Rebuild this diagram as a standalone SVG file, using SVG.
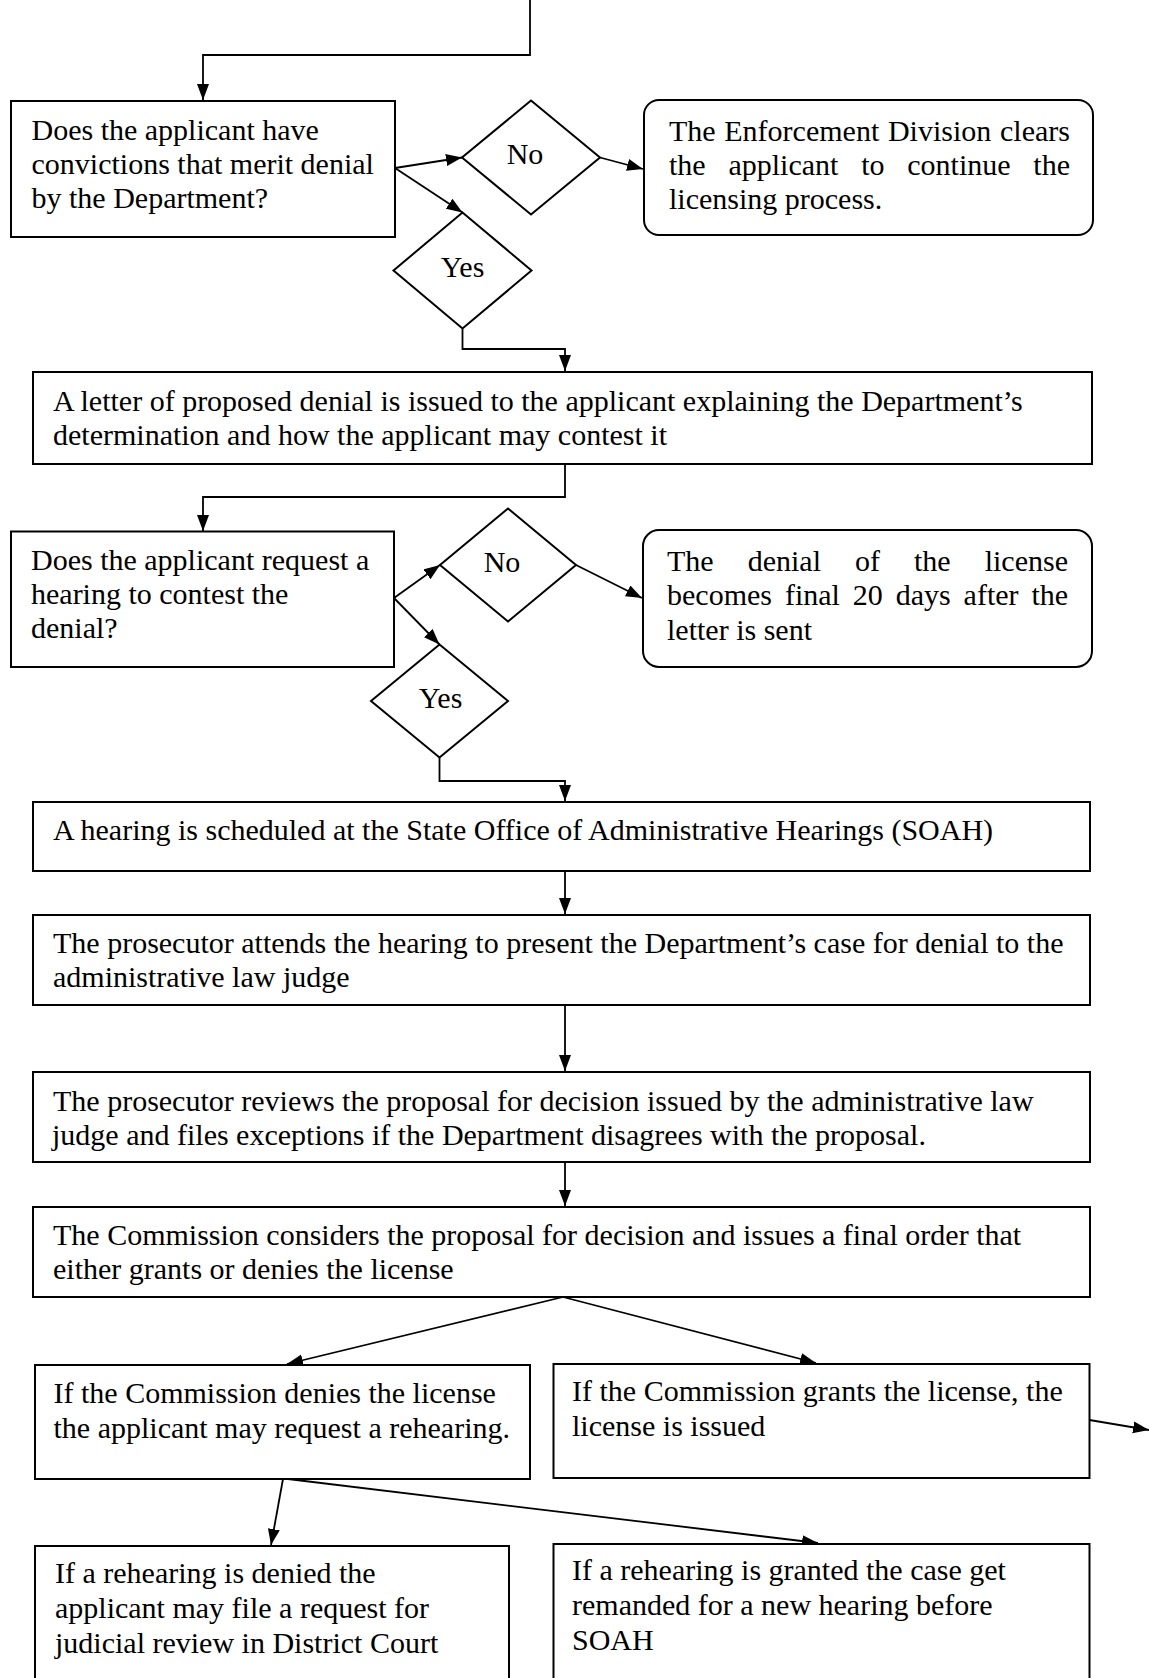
<svg xmlns="http://www.w3.org/2000/svg" width="1149" height="1678" viewBox="0 0 1149 1678">
<defs>
<marker id="arrow" markerUnits="userSpaceOnUse" markerWidth="17" markerHeight="13" refX="16" refY="6" orient="auto">
<path d="M0,0 L16,6 L0,12 z" fill="#000"/>
</marker>
<style>
.box{fill:#fff;stroke:#000;stroke-width:2}
.dia{fill:#fff;stroke:#000;stroke-width:2}
.t{font-family:"Liberation Serif","Times New Roman",serif;font-size:30px;fill:#000}
.c{text-anchor:middle}
.con{fill:none;stroke:#000;stroke-width:1.8;marker-end:url(#arrow)}
</style>
</defs>
<rect width="1149" height="1678" fill="#fff"/>

<g id="connectors">
<polyline class="con" points="530,0 530,55 203,55 203,100"/>
<line class="con" x1="395" y1="168" x2="462" y2="157.5"/>
<line class="con" x1="395" y1="168" x2="462.5" y2="212.5"/>
<polyline class="con" points="462.5,328.5 462.5,349 565,349 565,371"/>
<line class="con" x1="600" y1="157.5" x2="643" y2="169"/>
<polyline class="con" points="565,464 565,497 203,497 203,531"/>
<line class="con" x1="394" y1="598" x2="440" y2="565"/>
<line class="con" x1="394" y1="598" x2="439.5" y2="644.5"/>
<line class="con" x1="576" y1="565" x2="642" y2="598"/>
<polyline class="con" points="439.5,757.5 439.5,781 565,781 565,801"/>
<line class="con" x1="565" y1="871" x2="565" y2="914"/>
<line class="con" x1="565" y1="1005" x2="565" y2="1071"/>
<line class="con" x1="565" y1="1162" x2="565" y2="1206"/>
<line class="con" x1="563" y1="1297" x2="287" y2="1364"/>
<line class="con" x1="563" y1="1297" x2="816" y2="1363"/>
<line class="con" x1="283" y1="1479" x2="271" y2="1545"/>
<line class="con" x1="288" y1="1479" x2="818" y2="1543"/>
<line class="con" x1="1089.5" y1="1420" x2="1149" y2="1430"/>
</g>

<g id="q-convictions">
<rect class="box" x="11" y="101" width="384" height="136"/>
<text class="t" x="31.5" y="140">Does the applicant have</text>
<text class="t" x="31.5" y="174">convictions that merit denial</text>
<text class="t" x="31.5" y="208">by the Department?</text>
</g>

<g id="d-no1">
<polygon class="dia" points="531,100.5 600,157.5 531,214.5 462,157.5"/>
<text class="t c" x="525" y="164">No</text>
</g>

<g id="d-yes1">
<polygon class="dia" points="462.5,212.5 531.5,270.5 462.5,328.5 393.5,270.5"/>
<text class="t c" x="462.5" y="277">Yes</text>
</g>

<g id="cleared">
<rect class="box" x="644" y="100" width="449" height="135" rx="15" ry="15"/>
<text class="t" y="141"><tspan x="669">The</tspan> <tspan x="724.3">Enforcement</tspan> <tspan x="887.9">Division</tspan> <tspan x="1000">clears</tspan></text>
<text class="t" y="175"><tspan x="669">the</tspan> <tspan x="728.4">applicant</tspan> <tspan x="861.2">to</tspan> <tspan x="907.3">continue</tspan> <tspan x="1033.3">the</tspan></text>
<text class="t" x="669" y="208.5">licensing process.</text>
</g>

<g id="letter">
<rect class="box" x="33" y="372" width="1059" height="92"/>
<text class="t" x="53" y="411">A letter of proposed denial is issued to the applicant explaining the Department’s</text>
<text class="t" x="53" y="445">determination and how the applicant may contest it</text>
</g>

<g id="q-hearing">
<rect class="box" x="11" y="531.5" width="383" height="135.5"/>
<text class="t" x="31" y="570">Does the applicant request a</text>
<text class="t" x="31" y="604">hearing to contest the</text>
<text class="t" x="31" y="638">denial?</text>
</g>

<g id="d-no2">
<polygon class="dia" points="508,508.5 576,565 508,621.5 440,565"/>
<text class="t c" x="502" y="572">No</text>
</g>

<g id="d-yes2">
<polygon class="dia" points="439.5,644.5 508,701 439.5,757.5 371,701"/>
<text class="t c" x="440.5" y="708">Yes</text>
</g>

<g id="final-denial">
<rect class="box" x="643" y="530" width="449" height="137" rx="16" ry="16"/>
<text class="t" y="571"><tspan x="667">The</tspan> <tspan x="747.7">denial</tspan> <tspan x="855">of</tspan> <tspan x="914">the</tspan> <tspan x="984.7">license</tspan></text>
<text class="t" y="605"><tspan x="667">becomes</tspan> <tspan x="784.9">final</tspan> <tspan x="852.8">20</tspan> <tspan x="895.7">days</tspan> <tspan x="963.6">after</tspan> <tspan x="1031.5">the</tspan></text>
<text class="t" x="667" y="640">letter is sent</text>
</g>

<g id="soah-hearing">
<rect class="box" x="33" y="802" width="1057" height="69"/>
<text class="t" x="53" y="840">A hearing is scheduled at the State Office of Administrative Hearings (SOAH)</text>
</g>

<g id="prosecutor-attends">
<rect class="box" x="33" y="915" width="1057" height="90"/>
<text class="t" x="53" y="953">The prosecutor attends the hearing to present the Department’s case for denial to the</text>
<text class="t" x="53" y="987">administrative law judge</text>
</g>

<g id="prosecutor-reviews">
<rect class="box" x="33" y="1072" width="1057" height="90"/>
<text class="t" x="53" y="1111">The prosecutor reviews the proposal for decision issued by the administrative law</text>
<text class="t" x="52" y="1145">judge and files exceptions if the Department disagrees with the proposal.</text>
</g>

<g id="commission">
<rect class="box" x="33" y="1207" width="1057" height="90"/>
<text class="t" x="53" y="1245">The Commission considers the proposal for decision and issues a final order that</text>
<text class="t" x="53" y="1279">either grants or denies the license</text>
</g>

<g id="denies">
<rect class="box" x="35" y="1365" width="495" height="114"/>
<text class="t" x="53.5" y="1403">If the Commission denies the license</text>
<text class="t" x="53.5" y="1438">the applicant may request a rehearing.</text>
</g>

<g id="grants">
<rect class="box" x="553.5" y="1364" width="536" height="114"/>
<text class="t" x="572" y="1401">If the Commission grants the license, the</text>
<text class="t" x="572" y="1436">license is issued</text>
</g>

<g id="rehearing-denied">
<rect class="box" x="35" y="1546" width="474" height="200"/>
<text class="t" x="55" y="1583">If a rehearing is denied the</text>
<text class="t" x="55" y="1618">applicant may file a request for</text>
<text class="t" x="55" y="1653">judicial review in District Court</text>
</g>

<g id="rehearing-granted">
<rect class="box" x="553.5" y="1544" width="536" height="200"/>
<text class="t" x="572" y="1580">If a rehearing is granted the case get</text>
<text class="t" x="572" y="1615">remanded for a new hearing before</text>
<text class="t" x="572" y="1650">SOAH</text>
</g>
</svg>
